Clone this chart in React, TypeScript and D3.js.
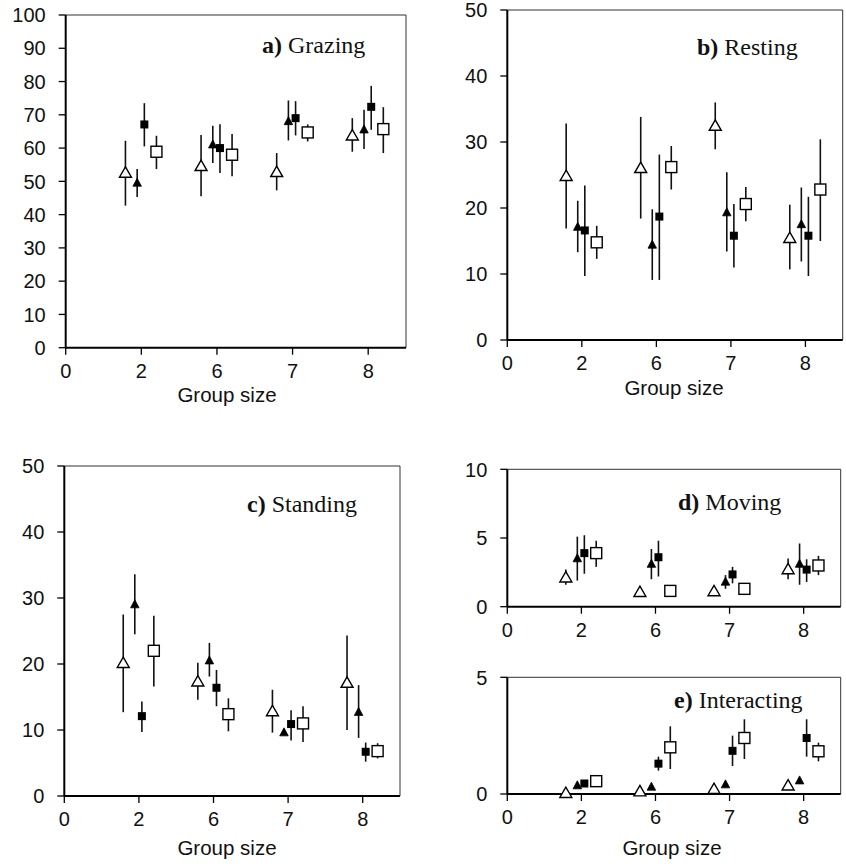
import React from "react";
import * as d3 from "d3";

// Categories (group sizes) and series
const groupSizes = ["2", "6", "7", "8"];
const seriesNames = ["openTriangle", "filledTriangle", "filledSquare", "openSquare"];
const xTickLabels = ["0", "2", "6", "7", "8"];

// a) Grazing
const grazingMean = [[52.5, 54.5, 52.7, 63.7], [49.5, 61, 68, 65.5], [67.1, 60, 69, 72.4], [58.9, 58, 64.7, 65.7]];
const grazingLow = [[42.7, 45.5, 47.3, 58.9], [45.3, 55.5, 62.3, 59.7], [60.5, 52.5, 63.8, 65.5], [53.7, 51.5, 62, 58.5]];
const grazingHigh = [[62.2, 63.9, 58.5, 69], [53.7, 66.7, 74.3, 71.5], [73.5, 67.2, 74.1, 78.7], [63.7, 64.2, 67.1, 72.3]];
// b) Resting
const restingMean = [[24.8, 26, 32.4, 15.4], [17.1, 14.4, 19.3, 17.5], [16.6, 18.7, 15.8, 15.8], [14.8, 26.2, 20.6, 22.8]];
const restingLow = [[16.9, 18.4, 28.9, 10.7], [13.3, 9.1, 13.4, 11.9], [9.7, 9.1, 11, 9.7], [12.3, 22.8, 18, 15]];
const restingHigh = [[32.8, 33.8, 36, 20.5], [21.1, 19.8, 25.4, 23.1], [23.4, 28.1, 20.6, 21.7], [17.3, 29.4, 23.2, 30.4]];
// c) Standing
const standingMean = [[20.1, 17.3, 12.8, 17.1], [29, 20.5, 9.6, 12.7], [12.1, 16.4, 10.9, 6.7], [22, 12.4, 11, 6.8]];
const standingLow = [[12.7, 14.6, 9.6, 10], [24.5, 18.1, 9.6, 8.8], [9.7, 13.6, 8.4, 5.2], [16.6, 9.8, 8.2, 5.7]];
const standingHigh = [[27.5, 20.2, 16.1, 24.3], [33.6, 23.2, 9.6, 16.8], [14.3, 19.1, 13, 8.1], [27.3, 14.8, 13.6, 8]];
// d) Moving
const movingMean = [[2.1, 1.05, 1.1, 2.7], [3.5, 3.1, 1.8, 3.1], [3.9, 3.6, 2.35, 2.7], [3.9, 1.15, 1.3, 3.0]];
const movingLow = [[1.6, 1.05, 1.1, 2.0], [1.9, 2.0, 1.3, 1.6], [2.4, 2.2, 1.7, 1.8], [2.9, 1.15, 1.3, 2.3]];
const movingHigh = [[2.7, 1.05, 1.1, 3.5], [5.1, 4.2, 2.3, 4.6], [5.2, 4.8, 2.9, 3.45], [4.8, 1.15, 1.3, 3.7]];
// e) Interacting
const interactingMean = [[0.03, 0.1, 0.2, 0.35], [0.36, 0.3, 0.4, 0.57], [0.45, 1.3, 1.85, 2.4], [0.55, 2.0, 2.4, 1.83]];
const interactingLow = [[0.03, 0.1, 0.2, 0.35], [0.36, 0.3, 0.4, 0.57], [0.45, 1.0, 1.2, 1.6], [0.55, 1.07, 1.5, 1.4]];
const interactingHigh = [[0.03, 0.1, 0.2, 0.35], [0.36, 0.3, 0.4, 0.57], [0.45, 1.6, 2.5, 3.2], [0.55, 2.9, 3.2, 2.2]];

const grazingTicks = [0, 10, 20, 30, 40, 50, 60, 70, 80, 90, 100];
const fiftyTicks = [0, 10, 20, 30, 40, 50];
const movingTicks = [0, 5, 10];
const interactingTicks = [0, 5];

const seriesOffsets = [-0.21, -0.055, 0.04, 0.2];

type Panel = {
  letter: string; name: string; max: number; ticks: number[];
  mean: number[][]; low: number[][]; high: number[][];
  l: number; r: number; t: number; b: number;
  tx: number; ty: number; xlab?: [number, number];
};

const panels: Panel[] = [
  { letter: "a)", name: "Grazing", max: 100, ticks: grazingTicks, mean: grazingMean, low: grazingLow, high: grazingHigh,
    l: 65.7, r: 406, t: 15, b: 347.7, tx: 262, ty: 53, xlab: [227, 402] },
  { letter: "b)", name: "Resting", max: 50, ticks: fiftyTicks, mean: restingMean, low: restingLow, high: restingHigh,
    l: 507.3, r: 842.7, t: 10, b: 340, tx: 697, ty: 55, xlab: [674, 395] },
  { letter: "c)", name: "Standing", max: 50, ticks: fiftyTicks, mean: standingMean, low: standingLow, high: standingHigh,
    l: 64.3, r: 400, t: 466, b: 796, tx: 247, ty: 512, xlab: [227, 855] },
  { letter: "d)", name: "Moving", max: 10, ticks: movingTicks, mean: movingMean, low: movingLow, high: movingHigh,
    l: 507.3, r: 840.7, t: 469.3, b: 606.7, tx: 678, ty: 510 },
  { letter: "e)", name: "Interacting", max: 5, ticks: interactingTicks, mean: interactingMean, low: interactingLow, high: interactingHigh,
    l: 507.3, r: 840.7, t: 677.3, b: 794, tx: 674, ty: 708, xlab: [672, 855] },
];

const sans = "'Liberation Sans', Arial, Helvetica, sans-serif";
const serif = "'Liberation Serif', 'Times New Roman', Times, serif";

function Marker({ kind, cx, cy }: { kind: number; cx: number; cy: number }) {
  if (kind === 0) {
    const s = 12, h = 10.4;
    const p = d3.path();
    p.moveTo(cx, cy - h * 0.6); p.lineTo(cx + s / 2, cy + h * 0.4); p.lineTo(cx - s / 2, cy + h * 0.4); p.closePath();
    return <path d={p.toString()} fill="#fff" stroke="#000" strokeWidth={1.4} />;
  }
  if (kind === 1) {
    const s = 8.5, h = 8;
    const p = d3.path();
    p.moveTo(cx, cy - h * 0.6); p.lineTo(cx + s / 2, cy + h * 0.4); p.lineTo(cx - s / 2, cy + h * 0.4); p.closePath();
    return <path d={p.toString()} fill="#000" stroke="#000" strokeWidth={0.8} />;
  }
  if (kind === 2) {
    const s = 8;
    return <rect x={cx - s / 2} y={cy - s / 2} width={s} height={s} fill="#000" />;
  }
  const s = 11;
  return <rect x={cx - s / 2} y={cy - s / 2} width={s} height={s} fill="#fff" stroke="#000" strokeWidth={1.4} />;
}

function PanelView({ p }: { p: Panel }) {
  const x = d3.scaleLinear().domain([0, 4.5]).range([p.l, p.r]);
  const y = d3.scaleLinear().domain([0, p.max]).range([p.b, p.t]);
  return (
    <g>
      {/* thin box */}
      <line x1={p.l} x2={p.r} y1={p.t} y2={p.t} stroke="#333" strokeWidth={1} />
      <line x1={p.r} x2={p.r} y1={p.t} y2={p.b} stroke="#333" strokeWidth={1} />
      {/* y axis */}
      <line x1={p.l} x2={p.l} y1={p.t} y2={p.b} stroke="#000" strokeWidth={2} />
      {p.ticks.map((v) => (
        <g key={"y" + v}>
          <line x1={p.l - 7} x2={p.l} y1={y(v)} y2={y(v)} stroke="#000" strokeWidth={1.3} />
          <text x={p.l - 20} y={y(v)} dy="0.36em" textAnchor="end" fontFamily={sans} fontSize={20} fill="#111">{v}</text>
        </g>
      ))}
      {/* x axis */}
      <line x1={p.l} x2={p.r} y1={p.b} y2={p.b} stroke="#000" strokeWidth={2} />
      {xTickLabels.map((lab, i) => (
        <g key={"x" + i}>
          <line x1={x(i)} x2={x(i)} y1={p.b} y2={p.b + 7} stroke="#000" strokeWidth={1.3} />
          <text x={x(i)} y={p.b + 30} textAnchor="middle" fontFamily={sans} fontSize={20} fill="#111">{lab}</text>
        </g>
      ))}
      {p.xlab && (
        <text x={p.xlab[0]} y={p.xlab[1]} textAnchor="middle" fontFamily={sans} fontSize={20.5} fill="#111">Group size</text>
      )}
      {/* title */}
      <text x={p.tx} y={p.ty} fontFamily={serif} fontSize={24} fill="#111">
        <tspan fontWeight="bold">{p.letter}</tspan> {p.name}
      </text>
      {/* error bars */}
      {seriesNames.map((sn, si) =>
        groupSizes.map((g, gi) => {
          const cx = x(gi + 1 + seriesOffsets[si]);
          const lo = p.low[si][gi], hi = p.high[si][gi];
          if (hi - lo < 1e-6) return null;
          return <line key={sn + g + "e"} x1={cx} x2={cx} y1={y(lo)} y2={y(hi)} stroke="#111" strokeWidth={1.6} />;
        })
      )}
      {/* markers */}
      {seriesNames.map((sn, si) =>
        groupSizes.map((g, gi) => (
          <Marker key={sn + g} kind={si} cx={x(gi + 1 + seriesOffsets[si])} cy={y(p.mean[si][gi])} />
        ))
      )}
    </g>
  );
}

export default function App() {
  return (
    <svg width={846} height={864} style={{ position: "absolute", left: 0, top: 0, background: "#fff" }}>
      <rect x={0} y={0} width={846} height={864} fill="#fff" />
      {panels.map((p) => <PanelView key={p.letter} p={p} />)}
    </svg>
  );
}
